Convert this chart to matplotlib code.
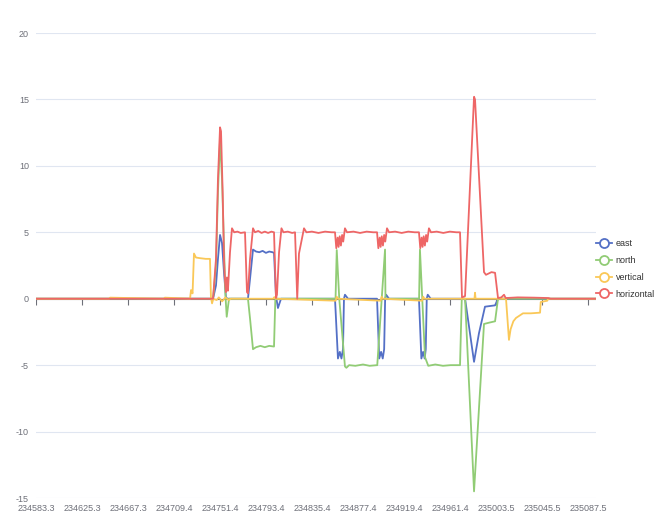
import matplotlib
matplotlib.use("Agg")
import matplotlib.pyplot as plt
from matplotlib.lines import Line2D

plt.rcParams['font.family'] = ['Liberation Sans', 'DejaVu Sans']

# x tick labels (time) and y range
xtick_labels = ["234583.3", "234625.3", "234667.3", "234709.4", "234751.4", "234793.4",
                "234835.4", "234877.4", "234919.4", "234961.4", "235003.5", "235045.5",
                "235087.5"]
x_start, x_end = 234583.3, 235094.8
yticks = [-15, -10, -5, 0, 5, 10, 15, 20]

# east
east_t = [234583.3, 234745.0, 234747.7, 234749.5, 234751.4, 234753.2, 234755.0, 234756.8,
          234758.3, 234776.9, 234778.8, 234781.5, 234784.3, 234787.3, 234790.3, 234793.3,
          234796.3, 234799.3, 234800.7, 234802.5, 234804.3, 234807.1, 234856.4, 234859.1,
          234860.8, 234862.3, 234863.7, 234864.6, 234865.5, 234868.3, 234894.8, 234896.8,
          234898.5, 234900.0, 234901.3, 234902.2, 234903.1, 234905.7, 234933.1, 234935.3,
          234936.9, 234938.3, 234939.3, 234940.2, 234941.1, 234943.8, 234975.2, 234983.4,
          234987.9, 234993.4, 234998.0, 235002.6, 235005.3, 235094.8]
east_v = [0, 0, 1.0, 3.0, 4.8, 4.2, 2.0, 0.1,
          0, 0, 1.5, 3.7, 3.55, 3.5, 3.6, 3.45,
          3.55, 3.5, 3.45, 0.2, -0.7, 0, 0, -4.5,
          -4.0, -4.5, -3.8, 0, 0.3, 0, 0, -4.5,
          -4.0, -4.5, -3.8, 0, 0.3, 0, 0, -4.5,
          -4.0, -4.5, -3.8, 0, 0.3, 0, 0, -4.75,
          -2.6, -0.6, -0.55, -0.5, 0, 0]

# north
north_t = [234583.3, 234745.0, 234747.7, 234749.5, 234751.4, 234753.2, 234755.0, 234756.3,
           234757.5, 234759.6, 234776.9, 234778.8, 234781.5, 234784.3, 234788.3, 234792.3,
           234796.3, 234800.7, 234801.9, 234856.9, 234858.0, 234860.3, 234865.5, 234866.8,
           234869.3, 234875.0, 234882.0, 234888.0, 234895.0, 234902.1, 234902.5, 234933.2,
           234934.0, 234938.6, 234941.6, 234948.0, 234955.0, 234962.0, 234970.6, 234972.2,
           234975.2, 234983.4, 234992.5, 234997.3, 235002.6, 235005.3, 235094.8]
north_v = [0, 0, 2.5, 8.0, 12.0, 9.0, 4.0, 0.3,
           -1.36, 0, 0, -1.5, -3.8, -3.65, -3.55, -3.65,
           -3.55, -3.6, 0, 0, 3.66, 0, -5.1, -5.2,
           -5.0, -5.05, -4.95, -5.05, -5.0, 3.7, 0, 0,
           3.7, -4.4, -5.05, -4.95, -5.05, -5.0, -5.0, 0,
           0, -14.5, -1.9, -1.8, -1.7, 0, 0]

# vertical
vert_t = [234583.3, 234650.0, 234651.0, 234700.0, 234701.0, 234724.0, 234724.9, 234726.3,
          234727.6, 234729.4, 234733.3, 234738.3, 234742.2, 234743.1, 234744.1, 234745.3,
          234748.3, 234750.3, 234753.3, 234756.3, 234759.3, 234761.3, 234800.0, 234801.0,
          234802.0, 234857.0, 234858.0, 234859.0, 234898.0, 234899.0, 234900.0, 234936.0,
          234937.0, 234938.0, 234983.8, 234984.3, 234984.8, 235012.6, 235015.3, 235016.8,
          235019.3, 235021.7, 235028.1, 235035.3, 235043.7, 235044.3, 235050.3, 235051.0,
          235094.8]
vert_v = [0, 0, 0.08, 0, 0.08, 0, 0.65, 0.4,
          3.4, 3.1, 3.05, 3.0, 3.0, 0.1, -0.35, 0,
          -0.1, 0.1, -0.2, 0.1, -0.1, 0, 0, 0.12,
          0, -0.15, 0.15, 0, -0.15, 0.15, 0, -0.15,
          0.15, 0, 0, 0.45, 0, 0, -3.1, -2.3,
          -1.7, -1.45, -1.1, -1.1, -1.05, -0.25, -0.15, 0,
          0]

# horizontal
horiz_t = [234583.3, 234745.0, 234747.7, 234749.5, 234751.4, 234752.3, 234753.8, 234755.0,
           234755.9, 234756.8, 234757.7, 234758.6, 234760.5, 234762.3, 234764.3, 234767.3,
           234770.3, 234774.2, 234776.0, 234776.9, 234778.8, 234781.5, 234783.3, 234786.3,
           234789.3, 234792.3, 234795.3, 234798.3, 234800.7, 234802.5, 234803.4, 234805.3,
           234807.5, 234809.3, 234813.3, 234817.3, 234819.9, 234821.9, 234823.5, 234828.1,
           234830.3, 234835.3, 234841.3, 234847.3, 234853.3, 234856.4, 234857.6, 234858.8,
           234859.7, 234860.7, 234861.8, 234862.9, 234863.9, 234865.5, 234867.4, 234873.3,
           234879.3, 234885.3, 234891.3, 234894.8, 234896.0, 234897.2, 234898.1, 234899.1,
           234900.2, 234901.3, 234902.3, 234903.9, 234905.8, 234911.3, 234917.3, 234923.3,
           234929.3, 234933.1, 234934.3, 234935.5, 234936.4, 234937.4, 234938.5, 234939.6,
           234940.6, 234942.2, 234944.1, 234949.3, 234955.3, 234961.3, 234967.3, 234970.6,
           234972.4, 234975.2, 234983.4, 234984.3, 234992.5, 234994.3, 234999.3, 235002.6,
           235005.3, 235008.3, 235010.8, 235012.3, 235023.3, 235038.3, 235051.3, 235053.3,
           235094.8]
horiz_v = [0, 0, 3.0, 9.0, 12.9, 12.6, 8.0, 3.0,
           1.4, 0.5, 1.6, 0.6, 3.5, 5.3, 5.0, 5.05,
           4.95, 5.0, 0.5, 0.4, 3.0, 5.3, 5.0, 5.1,
           4.95, 5.05, 4.95, 5.05, 5.0, 0.05, 0.3, 3.5,
           5.3, 5.0, 5.05, 4.95, 5.0, 0, 3.4, 5.3,
           5.0, 5.05, 4.95, 5.05, 5.0, 5.0, 3.8, 4.6,
           3.9, 4.7, 4.0, 4.8, 4.3, 5.3, 5.0, 5.05,
           4.95, 5.05, 5.0, 5.0, 3.8, 4.6, 3.9, 4.7,
           4.0, 4.8, 4.3, 5.3, 5.0, 5.05, 4.95, 5.05,
           5.0, 5.0, 3.8, 4.6, 3.9, 4.7, 4.0, 4.8,
           4.3, 5.3, 5.0, 5.05, 4.95, 5.05, 5.0, 5.0,
           0.1, 0.2, 15.2, 15.0, 2.0, 1.8, 2.0, 1.95,
           0.05, 0.1, 0.3, 0.05, 0.1, 0.08, 0.05, 0,
           0]

series = [("east", east_t, east_v, "#5470c6"),
          ("north", north_t, north_v, "#91cc75"),
          ("vertical", vert_t, vert_v, "#fac858"),
          ("horizontal", horiz_t, horiz_v, "#ee6666")]

fig = plt.figure(figsize=(6.7, 5.27), dpi=100)
ax = fig.add_axes([36/670, 1-498/527, (596-36)/670, (498-33)/527])

for s in ax.spines.values():
    s.set_visible(False)

# horizontal grid lines
for y in yticks:
    if y != 0:
        ax.axhline(y, color="#e0e6f1", lw=0.8, zorder=0)

# x axis line on zero, ticks pointing down
xticks = [float(v) for v in xtick_labels]
ax.axhline(0, color="#6e7079", lw=0.8, zorder=1)
ax.plot(xticks, [0]*len(xticks), linestyle="none", marker=3, markersize=4,
        color="#6e7079", markeredgewidth=0.8, zorder=1)

handles = []
for name, t, v, c in series:
    ax.plot(t, v, color=c, lw=1.3, zorder=3, solid_joinstyle="round")
    handles.append(Line2D([0], [0], color=c, lw=1.3, marker="o", markersize=6.5,
                          markerfacecolor="white", markeredgecolor=c, markeredgewidth=1.3))

ax.set_xlim(x_start, x_end)
ax.set_ylim(-15, 20)
ax.set_yticks(yticks)
ax.set_yticklabels([str(y) for y in yticks])
ax.set_xticks(xticks)
ax.set_xticklabels(xtick_labels)
ax.tick_params(axis="both", length=0, labelsize=6.5, labelcolor="#6e7079")
ax.tick_params(axis="x", pad=4)
ax.tick_params(axis="y", pad=5)

fig.legend(handles, [s[0] for s in series], loc="center left",
           bbox_to_anchor=(592/670, 1-269/527), frameon=False, fontsize=6.5,
           labelcolor="#333333", handlelength=1.8, handletextpad=0.4,
           labelspacing=0.85, borderaxespad=0)

fig.savefig("out.png", dpi=100)
